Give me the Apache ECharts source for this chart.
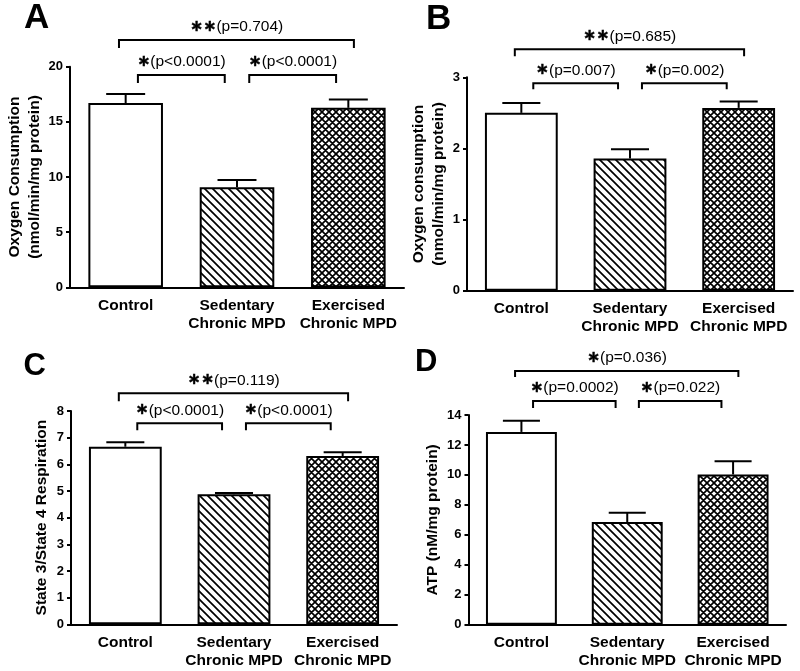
<!DOCTYPE html>
<html><head><meta charset="utf-8">
<script src="https://cdn.jsdelivr.net/npm/echarts@6/dist/echarts.min.js"></script>
<style>html,body{margin:0;padding:0;background:#fff}#c{width:800px;height:671px}</style>
</head><body><div id="c"></div>
<script>
// ---------- data ----------
const categories = ['Control', 'Sedentary\nChronic MPD', 'Exercised\nChronic MPD'];

const meanA = [16.7, 9.06, 16.27];
const semA  = [0.82, 0.66, 0.76];
const meanB = [2.50, 1.86, 2.57];
const semB  = [0.14, 0.13, 0.09];
const meanC = [6.66, 4.88, 6.31];
const semC  = [0.17, 0.04, 0.14];
const meanD = [12.87, 6.85, 10.03];
const semD  = [0.75, 0.62, 0.88];

// y axis: [min, max, interval]
const yAxisA = [0, 20, 5];
const yAxisB = [0, 3, 1];
const yAxisC = [0, 8, 1];
const yAxisD = [0, 14, 2];

const yNameA = 'Oxygen Consumption\n(nmol/min/mg protein)';
const yNameB = 'Oxygen consumption\n(nmol/min/mg protein)';
const yNameC = 'State 3/State 4 Respiration';
const yNameD = 'ATP (nM/mg protein)';

// significance brackets: category pairs and their labels
const pairsA = [[0, 1], [1, 2], [0, 2]];
const textA  = ['∗(p<0.0001)', '∗(p<0.0001)', '∗∗(p=0.704)'];
const pairsB = [[0, 1], [1, 2], [0, 2]];
const textB  = ['∗(p=0.007)', '∗(p=0.002)', '∗∗(p=0.685)'];
const pairsC = [[0, 1], [1, 2], [0, 2]];
const textC  = ['∗(p<0.0001)', '∗(p<0.0001)', '∗∗(p=0.119)'];
const pairsD = [[0, 1], [1, 2], [0, 2]];
const textD  = ['∗(p=0.0002)', '∗(p=0.022)', '∗(p=0.036)'];

const panelLetters = ['A', 'B', 'C', 'D'];

// ---------- patterns ----------
function hatchCanvas() {
  const s = 8, c = document.createElement('canvas');
  c.width = c.height = s;
  const g = c.getContext('2d');
  g.fillStyle = '#fff'; g.fillRect(0, 0, s, s);
  g.strokeStyle = '#000'; g.lineWidth = 1.7; g.lineCap = 'square';
  g.beginPath();
  g.moveTo(-2, -2); g.lineTo(s + 2, s + 2);
  g.moveTo(-2, s - 2); g.lineTo(2, s + 2);
  g.moveTo(s - 2, -2); g.lineTo(s + 2, 2);
  g.stroke();
  return c;
}
function crossCanvas() {
  const s = 7, c = document.createElement('canvas');
  c.width = c.height = s;
  const g = c.getContext('2d');
  g.fillStyle = '#fff'; g.fillRect(0, 0, s, s);
  g.strokeStyle = '#000'; g.lineWidth = 1.7;
  g.beginPath();
  g.moveTo(-2, -2); g.lineTo(s + 2, s + 2);
  g.moveTo(-2, s - 2); g.lineTo(2, s + 2);
  g.moveTo(s - 2, -2); g.lineTo(s + 2, 2);
  g.moveTo(s + 2, -2); g.lineTo(-2, s + 2);
  g.moveTo(2, -2); g.lineTo(-2, 2);
  g.moveTo(s + 2, s - 2); g.lineTo(s - 2, s + 2);
  g.stroke();
  return c;
}
const fills = ['#ffffff', { image: hatchCanvas(), repeat: 'repeat' }, { image: crossCanvas(), repeat: 'repeat' }];

// ---------- layout ----------
const FONT = '"Liberation Sans", Arial, Helvetica, sans-serif';
const panels = [
  { mean: meanA, sem: semA, ax: yAxisA, name: yNameA, pairs: pairsA, text: textA,
    grid: { left: 70, right: 396, top: 66.7, bottom: 383.7 }, nameGap: 24,
    br: { top: -26.7, low: 8.3, dropTop: 8, dropLow: 8 }, letter: [24, 18.7, 35] },
  { mean: meanB, sem: semB, ax: yAxisB, name: yNameB, pairs: pairsB, text: textB,
    grid: { left: 467, right: 7, top: 77.3, bottom: 380.3 }, nameGap: 13,
    br: { top: -28, low: 6, dropTop: 7, dropLow: 6 }, letter: [426, 19.2, 35] },
  { mean: meanC, sem: semC, ax: yAxisC, name: yNameC, pairs: pairsC, text: textC,
    grid: { left: 71, right: 403, top: 411, bottom: 46.7 }, nameGap: 19,
    br: { top: -17.7, low: 12.3, dropTop: 8, dropLow: 7 }, letter: [23.5, 366, 31] },
  { mean: meanD, sem: semD, ax: yAxisD, name: yNameD, pairs: pairsD, text: textD,
    grid: { left: 468.5, right: 14, top: 415, bottom: 46.3 }, nameGap: 25,
    br: { top: -44, low: -14, dropTop: 6, dropLow: 7 }, letter: [415, 362.5, 31] }
];

const grids = [], xAxes = [], yAxes = [], series = [], graphics = [];

panels.forEach((p, k) => {
  grids.push(Object.assign({ containLabel: false }, p.grid));
  xAxes.push({
    type: 'category', gridIndex: k, data: categories,
    axisTick: { show: false },
    axisLine: { lineStyle: { color: '#000', width: 2 } },
    axisLabel: { color: '#000', fontWeight: 'bold', fontSize: 15.5, fontFamily: FONT, lineHeight: 18, margin: 9, interval: 0 }
  });
  yAxes.push({
    type: 'value', gridIndex: k, min: p.ax[0], max: p.ax[1], interval: p.ax[2],
    axisLine: { show: true, lineStyle: { color: '#000', width: 2 } },
    axisTick: { show: true, length: 4, lineStyle: { color: '#000', width: 2 } },
    splitLine: { show: false },
    axisLabel: { color: '#000', fontWeight: 'bold', fontSize: 13, fontFamily: FONT, margin: 7 },
    name: p.name, nameLocation: 'middle', nameGap: p.nameGap,
    nameTextStyle: { color: '#000', fontWeight: 'bold', fontSize: 15.5, fontFamily: FONT, lineHeight: 20 }
  });
  series.push({
    type: 'bar', xAxisIndex: k, yAxisIndex: k, barWidth: '67%', silent: true,
    data: p.mean.map((v, i) => ({ value: v, itemStyle: { color: fills[i] } })),
    itemStyle: { borderColor: '#000', borderWidth: 2 }
  });
  series.push({
    type: 'custom', xAxisIndex: k, yAxisIndex: k, silent: true, clip: false, z: 3,
    data: p.mean.map((v, i) => [i, v, p.sem[i]]),
    encode: { x: 0, y: 1 },
    renderItem: function (params, api) {
      const x = api.value(0), m = api.value(1), e = api.value(2);
      const a = api.coord([x, m]), b = api.coord([x, m + e]);
      const bw = api.size([1, 0])[0];
      const cap = bw * 0.175;
      const st = { stroke: '#000', lineWidth: 2, fill: null };
      return { type: 'group', children: [
        { type: 'line', shape: { x1: a[0], y1: a[1], x2: b[0], y2: b[1] }, style: st },
        { type: 'line', shape: { x1: b[0] - cap, y1: b[1], x2: b[0] + cap, y2: b[1] }, style: st }
      ] };
    }
  });
  const yMax = p.ax[1];
  series.push({
    type: 'custom', xAxisIndex: k, yAxisIndex: k, silent: true, clip: false, z: 4,
    data: p.pairs.map((pr, i) => [pr[0], yMax, pr[1], i]),
    encode: { x: 0, y: 1 },
    renderItem: function (params, api) {
      const i = api.value(0), j = api.value(2), idx = api.value(3);
      const bw = api.size([1, 0])[0];
      const ci = api.coord([i, 0])[0], cj = api.coord([j, 0])[0];
      const gTop = api.coord([0, yMax])[1];
      const isTop = (j - i) > 1;
      const y = gTop + (isTop ? p.br.top : p.br.low);
      const drop = isTop ? p.br.dropTop : p.br.dropLow;
      const x1 = isTop ? ci - 0.06 * bw : ci + 0.11 * bw;
      const x2 = isTop ? cj + 0.05 * bw : cj - 0.11 * bw;
      const st = { stroke: '#000', lineWidth: 2, fill: null };
      const t = p.text[idx];
      const m = t.match(/^(∗+)(.*)$/);
      return { type: 'group', children: [
        { type: 'polyline', shape: { points: [[x1, y + drop], [x1, y], [x2, y], [x2, y + drop]] }, style: st },
        { type: 'text', x: (x1 + x2) / 2, y: y - 13,
          style: { text: '{s|' + m[1] + '}{p|' + m[2] + '}', align: 'center', verticalAlign: 'middle',
            rich: { s: { font: 'bold 16px "DejaVu Sans", sans-serif', fill: '#000', stroke: '#000', lineWidth: 0.4 },
                    p: { font: '15.5px ' + FONT, fill: '#000' } } } }
      ] };
    }
  });
  graphics.push({ type: 'text', x: p.letter[0], y: p.letter[1],
    style: { text: panelLetters[k], font: 'bold ' + p.letter[2] + 'px ' + FONT, fill: '#000', verticalAlign: 'middle' } });
});

const chart = echarts.init(document.getElementById('c'), null, { renderer: 'canvas' });
chart.setOption({
  animation: false,
  backgroundColor: '#fff',
  grid: grids, xAxis: xAxes, yAxis: yAxes, series: series, graphic: graphics
});
</script></body></html>
